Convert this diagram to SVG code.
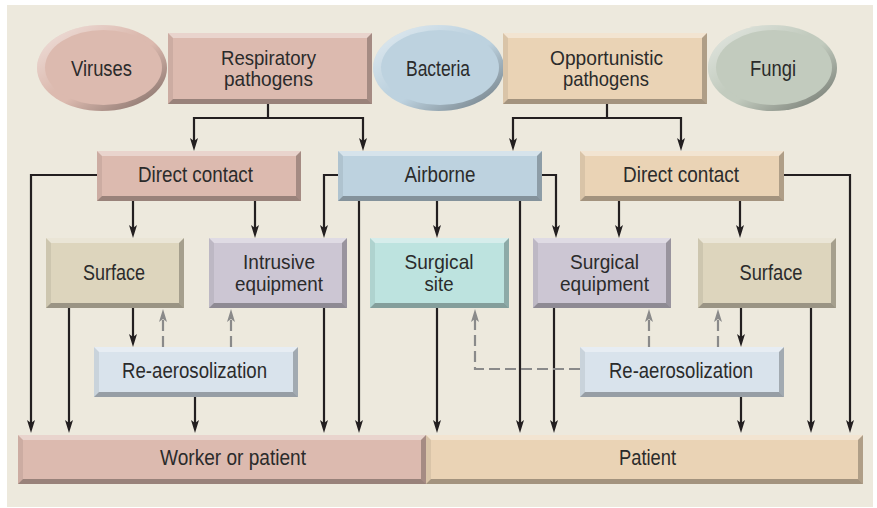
<svg xmlns="http://www.w3.org/2000/svg" width="877" height="508" viewBox="0 0 877 508">
<style>
  .t{font-family:"Liberation Sans",Arial,sans-serif;font-size:22px;fill:#2b2b2b;text-anchor:middle}
  .t2{font-family:"Liberation Sans",Arial,sans-serif;font-size:21px;fill:#2b2b2b;text-anchor:middle}
  .bt{fill:#ffffff;fill-opacity:.38}
  .bl{fill:#000000;fill-opacity:.07}
  .br{fill:#000000;fill-opacity:.25}
  .bb{fill:#000000;fill-opacity:.3}
  .ln{fill:none;stroke:#231f20;stroke-width:2.2}
  .dl{fill:none;stroke:#8a8a8a;stroke-width:2.2;stroke-dasharray:11 5}
  .pink{fill:#dcbaaf}
  .tan{fill:#ead3b5}
  .blue{fill:#bdd2df}
  .sand{fill:#ddd5bd}
  .lav{fill:#ccc6d3}
  .aqua{fill:#bde3df}
  .ice{fill:#d9e3ec}
  .sage{fill:#c2cbbe}
</style>
<defs>
  <linearGradient id="ring" x1="0" y1="0" x2="1" y2="1">
    <stop offset="0" stop-color="#ffffff" stop-opacity=".6"/>
    <stop offset=".45" stop-color="#ffffff" stop-opacity="0"/>
    <stop offset=".55" stop-color="#000000" stop-opacity="0"/>
    <stop offset="1" stop-color="#000000" stop-opacity=".45"/>
  </linearGradient>
  <marker id="ah" viewBox="0 0 13 8" markerUnits="userSpaceOnUse" markerWidth="13" markerHeight="8" refX="5" refY="4" orient="auto">
    <path d="M0,0 L13,4 L0,8 L3,4 Z" fill="#231f20"/>
  </marker>
  <marker id="ahg" viewBox="0 0 13 8" markerUnits="userSpaceOnUse" markerWidth="13" markerHeight="8" refX="5" refY="4" orient="auto">
    <path d="M0,0 L13,4 L0,8 L3,4 Z" fill="#8a8a8a"/>
  </marker>
</defs>
<rect x="7" y="5" width="866" height="502" fill="#ede9dd"/>

<g id="connectors">
  <path class="ln" d="M268,104 V118"/>
  <path class="ln" d="M268,118 H194 V143" marker-end="url(#ah)"/>
  <path class="ln" d="M268,118 H363 V143" marker-end="url(#ah)"/>
  <path class="ln" d="M607,104 V118"/>
  <path class="ln" d="M607,118 H513 V143" marker-end="url(#ah)"/>
  <path class="ln" d="M607,118 H681 V143" marker-end="url(#ah)"/>
  <path class="ln" d="M97,175 H31 V425" marker-end="url(#ah)"/>
  <path class="ln" d="M133,201 V230" marker-end="url(#ah)"/>
  <path class="ln" d="M255,201 V230" marker-end="url(#ah)"/>
  <path class="ln" d="M338,175 H324 V230" marker-end="url(#ah)"/>
  <path class="ln" d="M359,201 V425" marker-end="url(#ah)"/>
  <path class="ln" d="M437,201 V230" marker-end="url(#ah)"/>
  <path class="ln" d="M520,201 V425" marker-end="url(#ah)"/>
  <path class="ln" d="M542,175 H556 V230" marker-end="url(#ah)"/>
  <path class="ln" d="M619,201 V230" marker-end="url(#ah)"/>
  <path class="ln" d="M740,201 V230" marker-end="url(#ah)"/>
  <path class="ln" d="M784,175 H850 V425" marker-end="url(#ah)"/>
  <path class="ln" d="M69,308 V425" marker-end="url(#ah)"/>
  <path class="ln" d="M133,308 V339" marker-end="url(#ah)"/>
  <path class="ln" d="M195,397 V425" marker-end="url(#ah)"/>
  <path class="ln" d="M324,308 V425" marker-end="url(#ah)"/>
  <path class="ln" d="M437,308 V425" marker-end="url(#ah)"/>
  <path class="ln" d="M554,308 V425" marker-end="url(#ah)"/>
  <path class="ln" d="M741,308 V339" marker-end="url(#ah)"/>
  <path class="ln" d="M741,397 V425" marker-end="url(#ah)"/>
  <path class="ln" d="M811,308 V425" marker-end="url(#ah)"/>
  <path class="dl" d="M163,347 V317" marker-end="url(#ahg)"/>
  <path class="dl" d="M231,347 V317" marker-end="url(#ahg)"/>
  <path class="dl" d="M580,369 H475 V317" marker-end="url(#ahg)"/>
  <path class="dl" d="M649,347 V317" marker-end="url(#ahg)"/>
  <path class="dl" d="M718,347 V317" marker-end="url(#ahg)"/>
</g>

<g id="viruses">
  <ellipse cx="102" cy="68" rx="65" ry="43" class="pink"/>
  <ellipse cx="102" cy="68" rx="65" ry="43" fill="url(#ring)"/>
  <ellipse cx="103.5" cy="67.5" rx="58.5" ry="37.5" class="pink"/>
  <text class="t" x="101.5" y="76" textLength="61" lengthAdjust="spacingAndGlyphs">Viruses</text>
</g>
<g id="respiratory">
  <rect x="168" y="33" width="204" height="71" class="pink"/>
  <polygon class="bt" points="168,33 372,33 367,38 173,38"/>
  <polygon class="bl" points="168,33 173,38 173,99 168,104"/>
  <polygon class="br" points="372,33 372,104 367,99 367,38"/>
  <polygon class="bb" points="168,104 173,99 367,99 372,104"/>
  <text class="t2" x="268.5" y="64.5" textLength="95" lengthAdjust="spacingAndGlyphs">Respiratory</text>
  <text class="t2" x="268.5" y="86" textLength="89" lengthAdjust="spacingAndGlyphs">pathogens</text>
</g>
<g id="bacteria">
  <ellipse cx="438.5" cy="68" rx="65.5" ry="43" class="blue"/>
  <ellipse cx="438.5" cy="68" rx="65.5" ry="43" fill="url(#ring)"/>
  <ellipse cx="440" cy="67.5" rx="59" ry="37.5" class="blue"/>
  <text class="t" x="438" y="76" textLength="64" lengthAdjust="spacingAndGlyphs">Bacteria</text>
</g>
<g id="opportunistic">
  <rect x="503" y="33" width="204" height="71" class="tan"/>
  <polygon class="bt" points="503,33 707,33 702,38 508,38"/>
  <polygon class="bl" points="503,33 508,38 508,99 503,104"/>
  <polygon class="br" points="707,33 707,104 702,99 702,38"/>
  <polygon class="bb" points="503,104 508,99 702,99 707,104"/>
  <text class="t2" x="606.5" y="64.5" textLength="113" lengthAdjust="spacingAndGlyphs">Opportunistic</text>
  <text class="t2" x="606" y="86" textLength="86" lengthAdjust="spacingAndGlyphs">pathogens</text>
</g>
<g id="fungi">
  <ellipse cx="772.5" cy="68" rx="64.5" ry="43" class="sage"/>
  <ellipse cx="772.5" cy="68" rx="64.5" ry="43" fill="url(#ring)"/>
  <ellipse cx="774" cy="67.5" rx="58" ry="37.5" class="sage"/>
  <text class="t" x="773" y="76" textLength="46" lengthAdjust="spacingAndGlyphs">Fungi</text>
</g>

<g id="direct-contact-left">
  <rect x="97" y="151" width="204" height="50" class="pink"/>
  <polygon class="bt" points="97,151 301,151 296,156 102,156"/>
  <polygon class="bl" points="97,151 102,156 102,196 97,201"/>
  <polygon class="br" points="301,151 301,201 296,196 296,156"/>
  <polygon class="bb" points="97,201 102,196 296,196 301,201"/>
  <text class="t" x="195.5" y="182" textLength="115" lengthAdjust="spacingAndGlyphs">Direct contact</text>
</g>
<g id="airborne">
  <rect x="338" y="151" width="204" height="50" class="blue"/>
  <polygon class="bt" points="338,151 542,151 537,156 343,156"/>
  <polygon class="bl" points="338,151 343,156 343,196 338,201"/>
  <polygon class="br" points="542,151 542,201 537,196 537,156"/>
  <polygon class="bb" points="338,201 343,196 537,196 542,201"/>
  <text class="t" x="440" y="182" textLength="71" lengthAdjust="spacingAndGlyphs">Airborne</text>
</g>
<g id="direct-contact-right">
  <rect x="580" y="151" width="204" height="50" class="tan"/>
  <polygon class="bt" points="580,151 784,151 779,156 585,156"/>
  <polygon class="bl" points="580,151 585,156 585,196 580,201"/>
  <polygon class="br" points="784,151 784,201 779,196 779,156"/>
  <polygon class="bb" points="580,201 585,196 779,196 784,201"/>
  <text class="t" x="681" y="182" textLength="116" lengthAdjust="spacingAndGlyphs">Direct contact</text>
</g>

<g id="surface-left">
  <rect x="46" y="238" width="138" height="70" class="sand"/>
  <polygon class="bt" points="46,238 184,238 179,243 51,243"/>
  <polygon class="bl" points="46,238 51,243 51,303 46,308"/>
  <polygon class="br" points="184,238 184,308 179,303 179,243"/>
  <polygon class="bb" points="46,308 51,303 179,303 184,308"/>
  <text class="t" x="114" y="280" textLength="62" lengthAdjust="spacingAndGlyphs">Surface</text>
</g>
<g id="intrusive-equipment">
  <rect x="209" y="238" width="138" height="70" class="lav"/>
  <polygon class="bt" points="209,238 347,238 342,243 214,243"/>
  <polygon class="bl" points="209,238 214,243 214,303 209,308"/>
  <polygon class="br" points="347,238 347,308 342,303 342,243"/>
  <polygon class="bb" points="209,308 214,303 342,303 347,308"/>
  <text class="t2" x="279" y="269" textLength="72" lengthAdjust="spacingAndGlyphs">Intrusive</text>
  <text class="t2" x="279" y="290.5" textLength="88" lengthAdjust="spacingAndGlyphs">equipment</text>
</g>
<g id="surgical-site">
  <rect x="370" y="238" width="139" height="70" class="aqua"/>
  <polygon class="bt" points="370,238 509,238 504,243 375,243"/>
  <polygon class="bl" points="370,238 375,243 375,303 370,308"/>
  <polygon class="br" points="509,238 509,308 504,303 504,243"/>
  <polygon class="bb" points="370,308 375,303 504,303 509,308"/>
  <text class="t2" x="439" y="269" textLength="69" lengthAdjust="spacingAndGlyphs">Surgical</text>
  <text class="t2" x="439" y="290.5" textLength="29" lengthAdjust="spacingAndGlyphs">site</text>
</g>
<g id="surgical-equipment">
  <rect x="533" y="238" width="138" height="70" class="lav"/>
  <polygon class="bt" points="533,238 671,238 666,243 538,243"/>
  <polygon class="bl" points="533,238 538,243 538,303 533,308"/>
  <polygon class="br" points="671,238 671,308 666,303 666,243"/>
  <polygon class="bb" points="533,308 538,303 666,303 671,308"/>
  <text class="t2" x="604.5" y="269" textLength="69" lengthAdjust="spacingAndGlyphs">Surgical</text>
  <text class="t2" x="604.5" y="290.5" textLength="89" lengthAdjust="spacingAndGlyphs">equipment</text>
</g>
<g id="surface-right">
  <rect x="698" y="238" width="138" height="70" class="sand"/>
  <polygon class="bt" points="698,238 836,238 831,243 703,243"/>
  <polygon class="bl" points="698,238 703,243 703,303 698,308"/>
  <polygon class="br" points="836,238 836,308 831,303 831,243"/>
  <polygon class="bb" points="698,308 703,303 831,303 836,308"/>
  <text class="t" x="771" y="280" textLength="63" lengthAdjust="spacingAndGlyphs">Surface</text>
</g>

<g id="reaerosolization-left">
  <rect x="94" y="347" width="204" height="50" class="ice"/>
  <polygon class="bt" points="94,347 298,347 293,352 99,352"/>
  <polygon class="bl" points="94,347 99,352 99,392 94,397"/>
  <polygon class="br" points="298,347 298,397 293,392 293,352"/>
  <polygon class="bb" points="94,397 99,392 293,392 298,397"/>
  <text class="t" x="194.5" y="377.5" textLength="145" lengthAdjust="spacingAndGlyphs">Re-aerosolization</text>
</g>
<g id="reaerosolization-right">
  <rect x="580" y="347" width="204" height="50" class="ice"/>
  <polygon class="bt" points="580,347 784,347 779,352 585,352"/>
  <polygon class="bl" points="580,347 585,352 585,392 580,397"/>
  <polygon class="br" points="784,347 784,397 779,392 779,352"/>
  <polygon class="bb" points="580,397 585,392 779,392 784,397"/>
  <text class="t" x="681" y="377.5" textLength="144" lengthAdjust="spacingAndGlyphs">Re-aerosolization</text>
</g>

<g id="worker-or-patient">
  <rect x="18" y="435" width="408" height="49" class="pink"/>
  <polygon class="bt" points="18,435 426,435 421,440 23,440"/>
  <polygon class="bl" points="18,435 23,440 23,479 18,484"/>
  <polygon class="br" points="426,435 426,484 421,479 421,440"/>
  <polygon class="bb" points="18,484 23,479 421,479 426,484"/>
  <text class="t" x="233" y="465" textLength="146" lengthAdjust="spacingAndGlyphs">Worker or patient</text>
</g>
<g id="patient">
  <rect x="426" y="435" width="437" height="49" class="tan"/>
  <polygon class="bt" points="426,435 863,435 858,440 431,440"/>
  <polygon class="bl" points="426,435 431,440 431,479 426,484"/>
  <polygon class="br" points="863,435 863,484 858,479 858,440"/>
  <polygon class="bb" points="426,484 431,479 858,479 863,484"/>
  <text class="t" x="647.5" y="465" textLength="57" lengthAdjust="spacingAndGlyphs">Patient</text>
</g>
</svg>
